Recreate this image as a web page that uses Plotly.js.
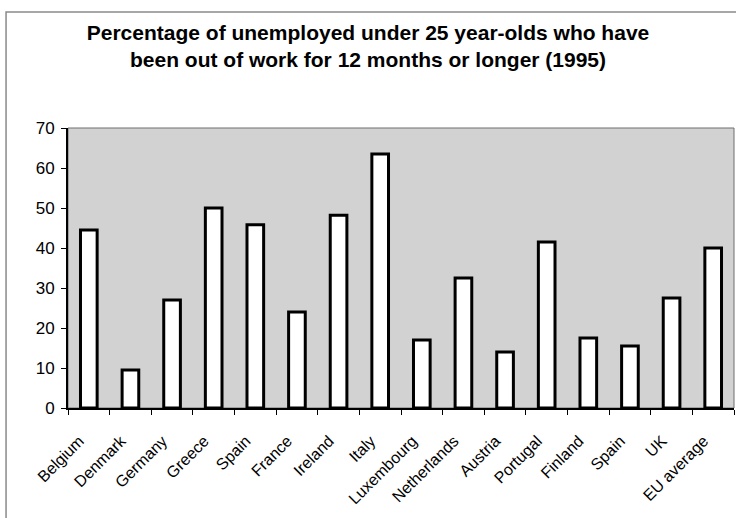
<!DOCTYPE html>
<html>
<head>
<meta charset="utf-8">
<script src="https://cdn.plot.ly/plotly-3.0.1.min.js"></script>
<style>
  html, body { margin: 0; padding: 0; background: #ffffff; }
  #chart { width: 736px; height: 518px; }
</style>
</head>
<body>
<div id="chart"></div>
<script>
// Long-term youth unemployment, 1995 (share of unemployed under-25s out of work 12+ months)
const countries = ["Belgium", "Denmark", "Germany", "Greece", "Spain ", "France", "Ireland", "Italy",
  "Luxembourg", "Netherlands", "Austria", "Portugal", "Finland", "Spain", "UK", "EU average"];
const shareLongTerm = [44.5, 9.5, 27, 50, 45.8, 24, 48.2, 63.5, 17, 32.5, 14, 41.5, 17.5, 15.5, 27.5, 40];
const yTicks = [0, 10, 20, 30, 40, 50, 60, 70];

// slanted labels sit a little left of each category centre
const labelPad = "\u00a0\u00a0\u00a0";

const trace = {
  type: "bar",
  x: countries,
  y: shareLongTerm,
  marker: { color: "#ffffff", line: { color: "#000000", width: 3 } },
  hoverinfo: "x+y"
};

const layout = {
  width: 736,
  height: 518,
  margin: { l: 68, r: 2, t: 128, b: 110 },
  paper_bgcolor: "#ffffff",
  plot_bgcolor: "#d2d2d2",
  font: { family: "Liberation Sans, Arial, sans-serif", size: 16, color: "#000000" },
  title: {
    text: "<b>Percentage of unemployed under 25 year-olds who have<br>been out of work for 12 months or longer (1995)</b>",
    font: { family: "Liberation Sans, Arial, sans-serif", size: 21, color: "#000000" },
    x: 0.5,
    xanchor: "center",
    y: 0.923,
    yanchor: "top"
  },
  bargap: 0.6,
  showlegend: false,
  xaxis: {
    type: "category",
    tickmode: "array",
    tickvals: countries,
    ticktext: countries.map(c => c.trim() + labelPad),
    tickangle: -45,
    ticks: "outside",
    tickson: "boundaries",
    ticklen: 5,
    tickwidth: 1,
    tickcolor: "#000000",
    showline: true,
    linecolor: "#000000",
    linewidth: 2,
    showgrid: false,
    zeroline: false,
    ticklabelstandoff: 6,
    tickfont: { size: 16 }
  },
  yaxis: {
    range: [0, 70],
    tickvals: yTicks,
    ticktext: yTicks.map(String),
    ticks: "outside",
    ticklen: 5,
    tickwidth: 1,
    tickcolor: "#000000",
    showline: true,
    linecolor: "#000000",
    linewidth: 2,
    showgrid: false,
    zeroline: false,
    ticklabelstandoff: 3,
    tickfont: { size: 17 }
  },
  shapes: [
    // thin border round the plotting area
    { type: "rect", xref: "x domain", yref: "y domain", x0: 0, x1: 1, y0: 0, y1: 1,
      line: { color: "#6e6e6e", width: 1 }, layer: "below" },
    // outer frame of the chart
    { type: "rect", xref: "paper", yref: "paper", x0: -0.093, x1: 1.2, y0: -0.6, y1: 1.414,
      line: { color: "#8a8a8a", width: 1.5 }, layer: "below" }
  ]
};

Plotly.newPlot("chart", [trace], layout, { displayModeBar: false, staticPlot: true });
</script>
</body>
</html>
